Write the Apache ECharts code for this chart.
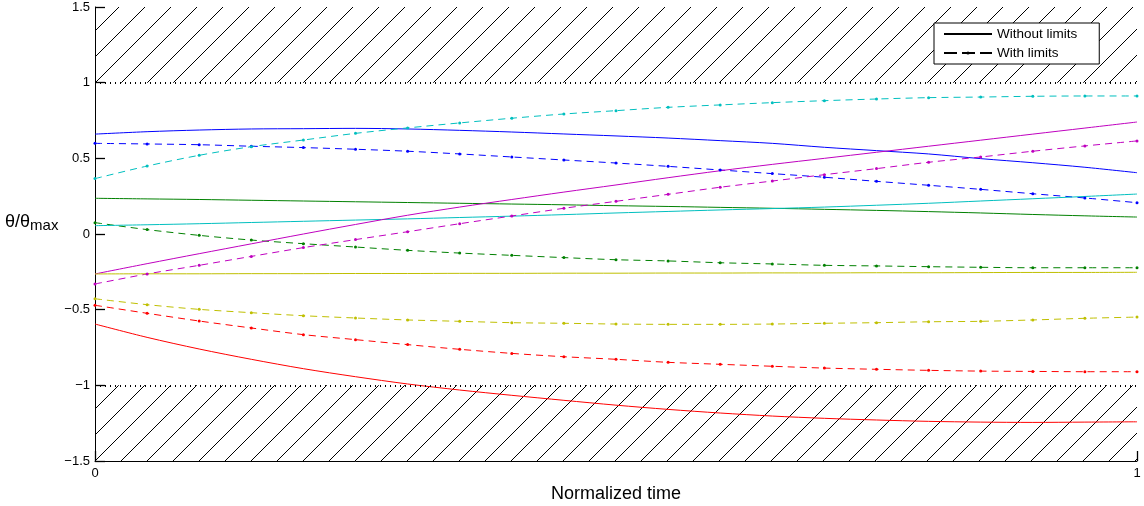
<!DOCTYPE html>
<html>
<head>
<meta charset="utf-8">
<script src="https://cdn.jsdelivr.net/npm/echarts@6/dist/echarts.min.js"></script>
<style>
  html, body { margin: 0; background: #fff; }
  #chart { width: 1144px; height: 506px; }
</style>
</head>
<body>
<div id="chart"></div>
<script>
// normalized time samples (dashed markers sit on these)
const time = [0, 0.05, 0.1, 0.15, 0.2, 0.25, 0.3, 0.35, 0.4, 0.45, 0.5,
  0.55, 0.6, 0.65, 0.7, 0.75, 0.8, 0.85, 0.9, 0.95, 1];

// joint trajectories without limits (solid)
const blueSolid = [0.660, 0.676, 0.687, 0.694, 0.696, 0.698, 0.694, 0.685, 0.674, 0.661, 0.648,
  0.634, 0.617, 0.599, 0.573, 0.551, 0.529, 0.498, 0.471, 0.441, 0.405];
const greenSolid = [0.236, 0.232, 0.228, 0.223, 0.218, 0.213, 0.208, 0.203, 0.198, 0.193, 0.187,
  0.182, 0.176, 0.170, 0.163, 0.156, 0.148, 0.139, 0.129, 0.120, 0.112];
const redSolid = [-0.595, -0.683, -0.760, -0.828, -0.890, -0.943, -0.991, -1.031, -1.066, -1.099, -1.131,
  -1.159, -1.183, -1.203, -1.218, -1.229, -1.238, -1.243, -1.245, -1.243, -1.241];
const cyanSolid = [0.055, 0.061, 0.068, 0.076, 0.084, 0.092, 0.100, 0.109, 0.118, 0.128, 0.139,
  0.149, 0.159, 0.168, 0.178, 0.190, 0.203, 0.218, 0.233, 0.248, 0.264];
const magentaSolid = [-0.264, -0.196, -0.130, -0.065, 0.000, 0.063, 0.124, 0.178, 0.228, 0.277, 0.324,
  0.372, 0.418, 0.460, 0.500, 0.540, 0.580, 0.620, 0.660, 0.700, 0.740];
const yellowSolid = [-0.264, -0.263, -0.263, -0.262, -0.262, -0.261, -0.261, -0.260, -0.260, -0.259, -0.259,
  -0.258, -0.258, -0.257, -0.257, -0.256, -0.256, -0.255, -0.254, -0.254, -0.253];

// joint trajectories with limits (dashed)
const blueDashed = [0.599, 0.595, 0.590, 0.580, 0.571, 0.560, 0.547, 0.529, 0.509, 0.489, 0.469,
  0.447, 0.423, 0.399, 0.375, 0.348, 0.322, 0.295, 0.266, 0.238, 0.207];
const greenDashed = [0.075, 0.029, -0.009, -0.040, -0.064, -0.086, -0.108, -0.126, -0.141, -0.156, -0.170,
  -0.178, -0.190, -0.198, -0.207, -0.211, -0.216, -0.220, -0.223, -0.223, -0.223];
const redDashed = [-0.471, -0.524, -0.575, -0.621, -0.665, -0.698, -0.731, -0.762, -0.789, -0.811, -0.828,
  -0.848, -0.861, -0.874, -0.886, -0.894, -0.901, -0.906, -0.908, -0.910, -0.910];
const cyanDashed = [0.366, 0.449, 0.520, 0.577, 0.621, 0.665, 0.701, 0.734, 0.765, 0.793, 0.815,
  0.837, 0.853, 0.868, 0.881, 0.892, 0.901, 0.905, 0.910, 0.912, 0.912];
const magentaDashed = [-0.330, -0.264, -0.207, -0.148, -0.090, -0.037, 0.015, 0.068, 0.119, 0.170, 0.216,
  0.262, 0.309, 0.350, 0.392, 0.432, 0.474, 0.509, 0.547, 0.582, 0.615];
const yellowDashed = [-0.428, -0.467, -0.498, -0.520, -0.540, -0.555, -0.568, -0.577, -0.586, -0.590, -0.595,
  -0.597, -0.597, -0.595, -0.590, -0.586, -0.580, -0.577, -0.568, -0.557, -0.549];

const limit = 1;
const yMin = -1.5, yMax = 1.5;

const joints = [
  ['#0000ff', blueSolid, blueDashed],
  ['#008000', greenSolid, greenDashed],
  ['#ff0000', redSolid, redDashed],
  ['#00bfbf', cyanSolid, cyanDashed],
  ['#bf00bf', magentaSolid, magentaDashed],
  ['#bfbf00', yellowSolid, yellowDashed]
];

const font = "'Liberation Sans', Arial, Helvetica, sans-serif";

// diagonal hatch tile, lines x + y = offset (mod 26)
function hatch(offset) {
  const c = document.createElement('canvas');
  c.width = 26;
  c.height = 26;
  const g = c.getContext('2d');
  g.strokeStyle = '#000';
  g.lineWidth = 1;
  for (const k of [offset - 26, offset, offset + 26, offset + 52]) {
    g.beginPath();
    g.moveTo(-2, k + 2);
    g.lineTo(k + 2, -2);
    g.stroke();
  }
  return { image: c, repeat: 'repeat' };
}

const pairs = (ys) => time.map((t, i) => [t, ys[i]]);

const series = [];
joints.forEach(([color, solid, dashed]) => {
  series.push({
    type: 'line',
    data: pairs(solid),
    smooth: 0.3,
    symbol: 'none',
    color,
    lineStyle: { width: 1 },
    z: 3
  });
  series.push({
    type: 'line',
    data: pairs(dashed),
    smooth: 0.3,
    symbol: 'circle',
    symbolSize: 3,
    color,
    lineStyle: { width: 1, type: [7, 5] },
    z: 3
  });
});

// forbidden zones + limit lines
series[0].markArea = {
  silent: true,
  data: [
    [{ xAxis: 0, yAxis: limit, itemStyle: { color: hatch(22) } }, { xAxis: 1, yAxis: yMax }],
    [{ xAxis: 0, yAxis: yMin, itemStyle: { color: hatch(10) } }, { xAxis: 1, yAxis: -limit }]
  ]
};
series[0].markLine = {
  silent: true,
  symbol: ['none', 'none'],
  label: { show: false },
  lineStyle: { color: '#000', type: [1, 4], width: 2 },
  data: [{ yAxis: limit }, { yAxis: -limit }]
};

// legend-only entries
series.push({
  name: 'Without limits', type: 'line', data: [], symbol: 'none',
  color: '#000', lineStyle: { width: 1 }
});
series.push({
  name: 'With limits', type: 'line', data: [], symbol: 'circle',
  color: '#000', lineStyle: { width: 1, type: [13, 5] }
});

const chart = echarts.init(document.getElementById('chart'));
chart.setOption({
  animation: false,
  textStyle: { fontFamily: font, color: '#000' },
  grid: { left: 95, right: 7, top: 7, bottom: 45, outerBoundsMode: 'none' },
  legend: {
    data: [
      { name: 'Without limits', itemStyle: { opacity: 0 } },
      'With limits'
    ],
    orient: 'vertical',
    left: 934,
    top: 23,
    itemWidth: 48,
    itemHeight: 4,
    itemGap: 5,
    padding: [4, 22, 4, 9],
    borderColor: '#000',
    borderWidth: 1,
    backgroundColor: '#fff',
    borderRadius: 0,
    selectedMode: false,
    textStyle: { fontFamily: font, fontSize: 13.5, color: '#000' }
  },
  xAxis: {
    type: 'value',
    min: 0,
    max: 1,
    interval: 1,
    name: 'Normalized time',
    nameLocation: 'middle',
    nameGap: 23,
    nameTextStyle: { fontFamily: font, fontSize: 18, color: '#000' },
    axisLine: { onZero: false, lineStyle: { color: '#000', width: 1 } },
    axisTick: { show: true, inside: true, length: 10, lineStyle: { color: '#000', width: 1.3 } },
    axisLabel: { fontFamily: font, fontSize: 13, color: '#000', margin: 6 },
    splitLine: { show: false }
  },
  yAxis: {
    type: 'value',
    min: yMin,
    max: yMax,
    interval: 0.5,
    name: '{a|θ/θ}{b|max}',
    nameLocation: 'middle',
    nameRotate: 0,
    nameGap: 88,
    nameTextStyle: {
      align: 'left',
      padding: [0, 0, 21, 0],
      rich: {
        a: { fontFamily: font, fontSize: 18, lineHeight: 20, verticalAlign: 'top', color: '#000' },
        b: { fontFamily: font, fontSize: 15, lineHeight: 16, padding: [16, 0, 0, 0], verticalAlign: 'bottom', color: '#000' }
      }
    },
    axisLine: { show: true, onZero: false, lineStyle: { color: '#000', width: 1 } },
    axisTick: { show: true, inside: true, length: 10, lineStyle: { color: '#000', width: 1.3 } },
    axisLabel: {
      fontFamily: font, fontSize: 13, color: '#000', margin: 5,
      formatter: (v) => String(v).replace('-', '\u2212')
    },
    splitLine: { show: false }
  },
  series
});
</script>
</body>
</html>
